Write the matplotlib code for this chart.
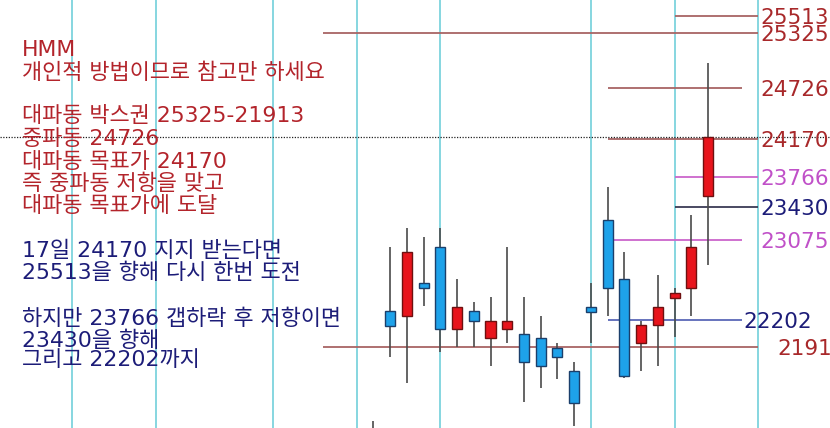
import matplotlib
matplotlib.use("Agg")
import matplotlib.pyplot as plt
from matplotlib.transforms import blended_transform_factory

plt.rcParams['font.family'] = ['DejaVu Sans', 'Noto Sans CJK KR']

# ---------------- data ----------------
idx = list(range(0, 21))
opens  = [20950, 22302, 22244, 22603, 22998, 22102, 22298, 22004, 22102, 22051, 22004,
          21902, 21645, 22348, 23292, 22653, 21950, 22146, 22447, 22552, 23550]
highs  = [21107, 23002, 23202, 23104, 23202, 22653, 22400, 22451, 23002, 22451, 22247,
          21950, 21750, 22603, 23655, 22947, 22196, 22694, 22549, 23347, 24998]
lows   = [20700, 21804, 21515, 22356, 21859, 21913, 21913, 21706, 21957, 21308, 21460,
          21561, 21053, 21957, 22251, 21569, 21652, 21706, 22015, 22251, 22802]
closes = [20800, 22142, 22947, 22549, 22102, 22348, 22193, 22196, 22196, 21746, 21700,
          21798, 21300, 22294, 22552, 21597, 22146, 22348, 22498, 22998, 24199]

week_lines = [-18, -13, -6, -1, 4, 13, 18, 23]

level_values = [25513, 25325, 24726, 24170, 23766, 23430, 23075, 22202, 21913]
level_labels = ["25513", "25325", "24726", "24170", "23766", "23430", "23075", "22202", "21913"]
level_start  = [18, -3, 14, 14, 18, 18, 14, 14, -3]
level_end    = [23, 23, 22, 23, 23, 23, 22, 22, 23]

red_lines = ["HMM", "개인적 방법이므로 참고만 하세요", "",
             "대파동 박스권 25325-21913", "중파동 24726", "대파동 목표가 24170",
             "즉 중파동 저항을 맞고", "대파동 목표가에 도달"]
blue_lines = ["17일 24170 지지 받는다면", "25513을 향해 다시 한번 도전", "",
              "하지만 23766 갭하락 후 저항이면", "23430을 향해", "그리고 22202까지"]

# ---------------- styles ----------------
RED_TXT = '#b3242b'
NAVY = '#1c1c78'
LVL_RED = '#a86464'
LVL_RED_TXT = '#a8282a'
MAG = '#cc66cc'
MAG_TXT = '#c050c8'
level_line_colors = [LVL_RED, LVL_RED, LVL_RED, LVL_RED, MAG, '#3a3a55', MAG, '#5a68b8', LVL_RED]
level_text_colors = [LVL_RED_TXT, LVL_RED_TXT, LVL_RED_TXT, LVL_RED_TXT, MAG_TXT, NAVY, MAG_TXT, NAVY, LVL_RED_TXT]
level_text_x = [760, 760, 760, 760, 760, 760, 760, 743, 777]

fig = plt.figure(figsize=(8.3, 4.28), dpi=100)
ax = fig.add_axes([0, 0, 1, 1])
ax.set_xlim(-22.3, 27.28)
ax.set_ylim(21028, 25688)
ax.axis('off')

for w in week_lines:
    ax.axvline(w, color='#86d6e0', lw=1.4, zorder=1)

for v, s, e, c in zip(level_values, level_start, level_end, level_line_colors):
    ax.hlines(v, s, e, color=c, lw=1.3, zorder=2)

ax.axhline(closes[-1], color='#222222', lw=0.9, ls=(0, (1, 1.2)), zorder=2)

# candles
ax.vlines(idx, lows, highs, color='#4a4a4a', lw=1.2, zorder=3)
for i, o, c in zip(idx, opens, closes):
    up = c >= o
    ax.bar(i, abs(c - o), bottom=min(o, c), width=0.6,
           color='#e8141c' if up else '#1ea2ea',
           edgecolor='#6e1010' if up else '#1b3f6b', lw=1.0, zorder=4)

# right labels
tr = blended_transform_factory(fig.transFigure, ax.transData)
for v, lab, col, xp in zip(level_values, level_labels, level_text_colors, level_text_x):
    ax.text(xp / 830, v, lab, transform=tr, color=col, fontsize=15.5,
            va='center_baseline', ha='left', zorder=5, clip_on=False)

# left text blocks
red_y = [47.5, 70.5, 93, 114.5, 137, 159.5, 182, 204]
for t, yp in zip(red_lines, red_y):
    if t:
        fig.text(22 / 830, 1 - yp / 428, t, color=RED_TXT, fontsize=15.8,
                 va='center_baseline', ha='left')
blue_y = [248.5, 271, 294, 316.5, 339, 358.5]
for t, yp in zip(blue_lines, blue_y):
    if t:
        fig.text(22 / 830, 1 - yp / 428, t, color=NAVY, fontsize=15.8,
                 va='center_baseline', ha='left')

fig.savefig('out.png', dpi=100)
